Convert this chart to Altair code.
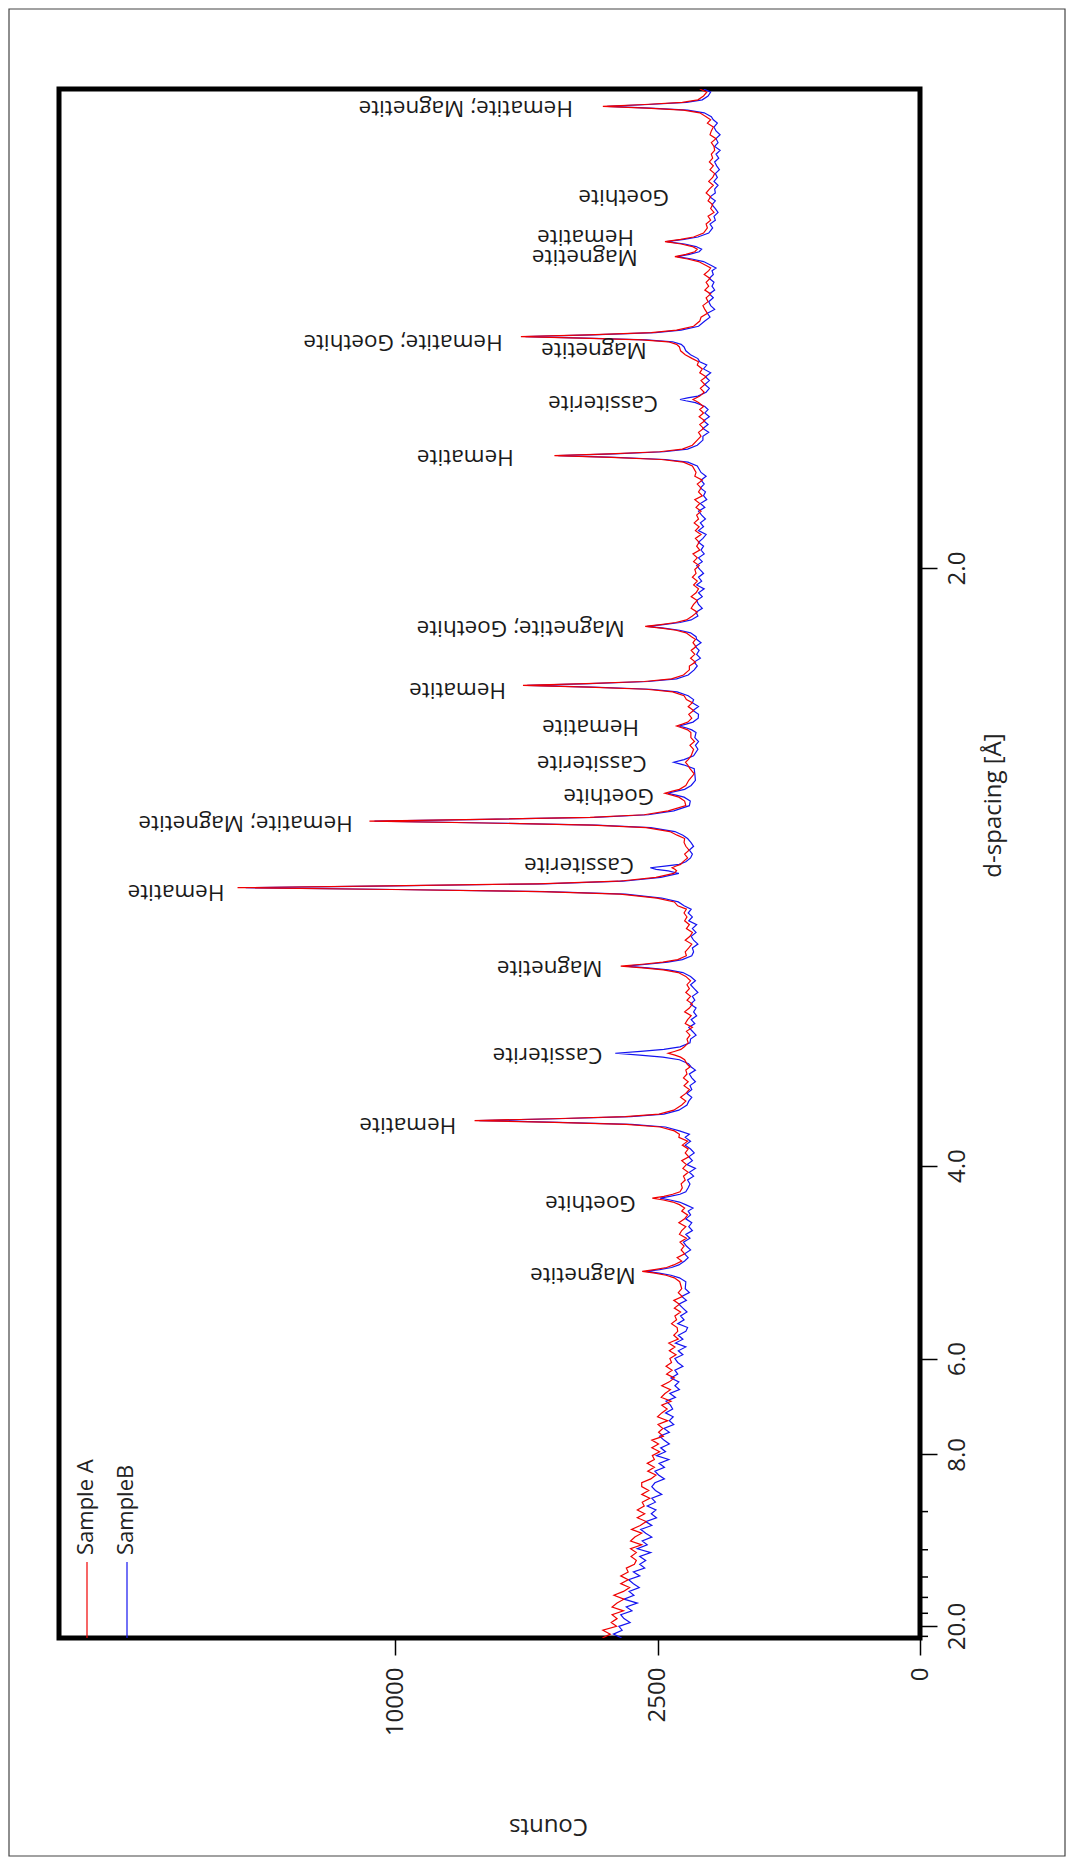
import math
import altair as alt
import pandas as pd

# ---------------- data ----------------
WAVELENGTH = 1.5406  # Cu K-alpha: places the d-spacing axis (linear in 2-theta)

# diffraction angle 2-theta (degrees) of every sampled point
two_theta = [
    3.95, 4.1, 4.25, 4.4, 4.55, 4.7, 4.85, 5.0, 5.15, 5.3,
    5.45, 5.6, 5.75, 5.9, 6.05, 6.2, 6.35, 6.5, 6.65, 6.8,
    6.95, 7.1, 7.25, 7.4, 7.55, 7.7, 7.85, 8.0, 8.15, 8.3,
    8.45, 8.6, 8.75, 8.9, 9.05, 9.2, 9.35, 9.5, 9.65, 9.8,
    9.95, 10.1, 10.25, 10.4, 10.55, 10.7, 10.85, 11.0, 11.15, 11.3,
    11.45, 11.6, 11.75, 11.9, 12.05, 12.2, 12.35, 12.5, 12.65, 12.8,
    12.95, 13.1, 13.25, 13.4, 13.55, 13.7, 13.85, 14.0, 14.15, 14.3,
    14.45, 14.6, 14.75, 14.9, 15.05, 15.2, 15.35, 15.5, 15.65, 15.8,
    15.95, 16.1, 16.25, 16.4, 16.55, 16.7, 16.85, 17.0, 17.15, 17.3,
    17.45,
    17.72, 17.87, 17.97, 18.05, 18.12, 18.19, 18.27, 18.37, 18.52,
    18.65, 18.8, 18.95, 19.1, 19.25, 19.4, 19.55, 19.7, 19.85, 20.0, 20.15, 20.3, 20.45, 20.57,
    20.7, 20.8, 20.88, 20.95, 21.02, 21.1, 21.2, 21.35,
    21.5, 21.65, 21.8, 21.95, 22.1, 22.25, 22.4, 22.55, 22.7, 22.85, 23.0, 23.15, 23.3, 23.42,
    23.55, 23.7, 23.8, 23.88, 23.95, 24.02, 24.1, 24.2, 24.35, 24.55,
    24.7, 24.85, 25.0, 25.15, 25.3, 25.45, 25.6, 25.75, 25.9, 26.02,
    26.15, 26.3, 26.4, 26.48, 26.55, 26.62, 26.7, 26.8, 26.95,
    27.1, 27.25, 27.4, 27.55, 27.7, 27.85, 28.0, 28.15, 28.3, 28.45, 28.6, 28.75, 28.9, 29.05, 29.2, 29.35,
    29.52, 29.67, 29.77, 29.85, 29.92, 29.99, 30.07, 30.17, 30.32,
    30.47, 30.62, 30.77, 30.92, 31.07, 31.22, 31.37, 31.52, 31.67, 31.82, 31.97, 32.12, 32.25, 32.4,
    32.55, 32.7, 32.8, 32.88, 32.95, 33.02, 33.1, 33.2, 33.35,
    33.5, 33.6, 33.66, 33.72, 33.78, 33.85, 33.95, 34.1, 34.25, 34.4, 34.55, 34.7, 34.85, 34.98,
    35.12, 35.27, 35.37, 35.45, 35.52, 35.59, 35.67, 35.77, 35.92,
    36.12, 36.3, 36.45, 36.53, 36.6, 36.67, 36.75, 36.9, 37.1,
    37.35, 37.55, 37.7, 37.8, 37.9, 38.05, 38.3,
    38.45, 38.6, 38.75,
    38.95, 39.05, 39.13, 39.2, 39.27, 39.35, 39.5,
    39.65, 39.8, 39.95, 40.1, 40.22,
    40.37, 40.52, 40.62, 40.7, 40.77, 40.84, 40.92, 41.02, 41.17, 41.37,
    41.52, 41.67, 41.82, 41.97, 42.12, 42.27, 42.42, 42.55,
    42.65, 42.8, 42.9, 42.98, 43.05, 43.12, 43.2, 43.3, 43.45,
    43.6, 43.75, 43.9, 44.05, 44.2, 44.35, 44.5, 44.65, 44.8, 44.95,
    45.1, 45.25, 45.4, 45.55, 45.7, 45.85, 46.0, 46.15, 46.3, 46.45,
    46.6, 46.75, 46.9, 47.05, 47.2, 47.35, 47.5, 47.65, 47.8, 47.95,
    48.1, 48.25, 48.4, 48.55, 48.7, 48.85, 49.0,
    49.25, 49.4, 49.5, 49.58, 49.65, 49.72, 49.8, 49.9, 50.05, 50.25,
    50.4, 50.55, 50.7, 50.85, 51.0, 51.15, 51.3, 51.43,
    51.55, 51.7, 51.77, 51.82, 51.88, 51.95, 52.1,
    52.25, 52.4, 52.55, 52.7, 52.85, 53.0, 53.15, 53.28,
    53.4, 53.55, 53.7, 53.85, 53.95, 54.05, 54.12, 54.18, 54.25, 54.32, 54.4, 54.5, 54.65, 54.85,
    55.0, 55.15, 55.3, 55.45, 55.6, 55.75, 55.9, 56.05, 56.2, 56.35, 56.5, 56.65, 56.8, 56.9,
    57.0, 57.15, 57.25, 57.34, 57.43, 57.53, 57.63, 57.73, 57.83, 57.92, 58.01, 58.1, 58.25, 58.45,
    58.6, 58.75, 58.9, 59.05, 59.2, 59.35, 59.5, 59.65, 59.8, 59.95,
    60.1, 60.25, 60.4, 60.55, 60.7, 60.85, 61.0, 61.15, 61.3, 61.45,
    61.6, 61.75, 61.9, 62.05, 62.2, 62.35, 62.5, 62.63,
    62.75, 62.9, 63.0, 63.08, 63.15, 63.22, 63.3, 63.4, 63.55, 63.7, 63.82,
]

# counts, Sample A (red)
sample_a = [
    3660, 3480, 3650, 3340, 3460, 3330, 3440, 3190, 3440, 3330,
    3180, 3400, 3190, 3060, 3250, 3090, 3250, 3090, 3130, 2960,
    2920, 3030, 2920, 3040, 2810, 3040, 2950, 2810, 3020, 2840,
    2720, 2900, 2750, 2900, 2760, 2800, 2650, 2810, 2670, 2810,
    2810, 2630, 2530, 2690, 2560, 2700, 2560, 2600, 2460, 2610,
    2480, 2610, 2390, 2480, 2400, 2490, 2310, 2500, 2420, 2320,
    2420, 2250, 2430, 2360, 2260, 2420, 2280, 2190, 2330, 2230,
    2340, 2240, 2270, 2160, 2280, 2180, 2290, 2120, 2200, 2130,
    2140, 2240, 2150, 2180, 2080, 2190, 2100, 2200, 2050, 2120,
    2060,
    2095, 2190, 2340, 2550, 2800, 2560, 2330, 2200, 2060,
    2140, 2010, 2070, 2020, 2090, 1980, 2100, 2060, 1990, 2110, 2010, 1960, 2060, 2010,
    2100, 2215, 2390, 2600, 2380, 2220, 2090, 2050,
    2070, 2000, 2030, 1950, 2040, 1980, 2060, 1940, 2000, 1950, 2050, 1960, 2110, 2100,
    2190, 2450, 3130, 4850, 7200, 4900, 3150, 2470, 2200, 2060,
    1990, 2080, 1990, 1930, 2020, 1950, 2030, 1970, 1990, 1920,
    1975, 2010, 2080, 2180, 2300, 2190, 2075, 2015, 1950,
    1970, 1920, 1980, 1880, 2000, 1960, 1900, 2010, 1930, 1880, 1970, 1910, 1990, 1930, 1970, 1910,
    1990, 2120, 2390, 2790, 3250, 2800, 2400, 2130, 1980,
    2000, 1940, 1890, 2000, 1920, 1880, 1980, 1930, 2010, 1970, 2020, 1980, 2130, 2190,
    2510, 3260, 5210, 10150, 16900, 10300, 5300, 3300, 2530,
    2200, 2150, 2180, 2230, 2170, 2080, 2040, 1960, 2010, 1935, 1990, 2020, 2010, 2140,
    2270, 2720, 3900, 6900, 11000, 7000, 3950, 2760, 2300,
    1990, 2010, 2110, 2235, 2360, 2240, 2100, 1990, 1940,
    1850, 1920, 1960, 1995, 1950, 1900, 1860,
    1920, 1845, 1905,
    1905, 1960, 2060, 2150, 2050, 1955, 1890,
    1940, 1860, 1950, 1880, 1980,
    2020, 2220, 2720, 3990, 5720, 4050, 2760, 2240, 2030, 1930,
    1930, 1830, 1910, 1840, 1900, 1820, 1870, 1830,
    1895, 1985, 2160, 2430, 2740, 2440, 2165, 1980, 1880,
    1800, 1900, 1860, 1800, 1900, 1820, 1780, 1860, 1800, 1880,
    1820, 1840, 1770, 1860, 1800, 1870, 1760, 1810, 1770, 1830,
    1740, 1830, 1770, 1850, 1780, 1810, 1740, 1820, 1760, 1840,
    1720, 1780, 1740, 1800, 1720, 1840, 1820,
    1880, 2030, 2430, 3460, 4850, 3500, 2460, 2050, 1880, 1800,
    1740, 1780, 1700, 1760, 1680, 1770, 1700, 1760,
    1700, 1780, 1830, 1870, 1820, 1760, 1690,
    1750, 1680, 1740, 1660, 1760, 1720, 1800, 1780,
    1880, 2000, 2080, 2100, 2150, 2300, 2800, 3940, 5780, 3990, 2620, 2150, 1860, 1760,
    1740, 1640, 1680, 1710, 1630, 1660, 1590, 1680, 1620, 1660, 1600, 1690, 1620, 1590,
    1660, 1780, 1960, 2180, 1990, 1840, 1800, 1880, 2070, 2360, 2080, 1860, 1700, 1640,
    1660, 1590, 1630, 1540, 1590, 1560, 1630, 1590, 1660, 1610,
    1550, 1620, 1560, 1530, 1600, 1550, 1610, 1560, 1580, 1530,
    1540, 1580, 1510, 1600, 1580, 1550, 1640, 1590,
    1660, 1760, 2030, 2710, 3650, 2750, 2050, 1790, 1700, 1650, 1760,
]

# counts, Sample B (blue)
sample_b = [
    3230, 3410, 3220, 3290, 3050, 3180, 3250, 3010, 3130, 2900,
    3180, 2970, 3070, 2860, 2980, 3080, 2850, 2980, 2750, 2850,
    2730, 2850, 2630, 2900, 2700, 2800, 2610, 2730, 2830, 2610,
    2730, 2520, 2620, 2530, 2700, 2540, 2610, 2420, 2540, 2610,
    2550, 2370, 2480, 2550, 2370, 2470, 2290, 2520, 2350, 2440,
    2280, 2380, 2460, 2280, 2380, 2200, 2280, 2210, 2350, 2220,
    2260, 2340, 2170, 2270, 2100, 2180, 2110, 2250, 2130, 2180,
    2040, 2130, 2180, 2040, 2120, 1990, 2170, 2040, 2120, 1990,
    1960, 2130, 2020, 2080, 1970, 2040, 2110, 1980, 2060, 1930,
    2000,
    1990, 2100, 2250, 2470, 2720, 2460, 2240, 2110, 2010,
    1950, 2010, 1910, 1980, 2030, 1920, 1990, 1880, 1940, 1890, 1990, 1910, 1950, 1870,
    1995, 2100, 2265, 2450, 2270, 2090, 1990, 1950,
    1920, 1960, 1860, 1930, 1830, 1970, 1880, 1940, 1850, 1910, 2000, 1910, 2000, 1930,
    2100, 2350, 3020, 4730, 7050, 4780, 3040, 2380, 2110, 1970,
    1940, 1890, 1970, 1890, 1920, 1830, 1890, 1930, 1830, 1900,
    1945, 2100, 2400, 2850, 3370, 2830, 2380, 2090, 1920,
    1910, 1820, 1880, 1940, 1840, 1900, 1810, 1860, 1820, 1910, 1840, 1880, 1790, 1850, 1910, 1830,
    1910, 2040, 2300, 2690, 3150, 2700, 2310, 2050, 1890,
    1860, 1880, 1790, 1860, 1900, 1820, 1880, 1810, 1940, 1880, 1950, 1900, 2020, 2120,
    2420, 3150, 5060, 9900, 16500, 10050, 5150, 3200, 2440,
    2110, 2300, 2525, 2640, 2360, 2105, 1990, 1910, 1880, 1930, 1860, 1905, 1960, 2040,
    2180, 2630, 3800, 6760, 10800, 6850, 3850, 2680, 2200,
    1930, 1915, 2020, 2160, 2310, 2170, 2010, 1900, 1830,
    1840, 1850, 2030, 2200, 2020, 1860, 1790,
    1830, 1780, 1840,
    1820, 1890, 1990, 2100, 1985, 1870, 1785,
    1780, 1870, 1780, 1880, 1860,
    1950, 2140, 2630, 3890, 5600, 3950, 2680, 2150, 1950, 1850,
    1800, 1850, 1750, 1810, 1770, 1830, 1740, 1810,
    1820, 1910, 2100, 2380, 2700, 2390, 2090, 1900, 1790,
    1820, 1720, 1780, 1810, 1720, 1780, 1690, 1810, 1730, 1780,
    1700, 1760, 1810, 1720, 1780, 1690, 1740, 1700, 1780, 1710,
    1660, 1780, 1700, 1750, 1670, 1730, 1780, 1680, 1750, 1650,
    1700, 1670, 1750, 1690, 1740, 1660, 1740,
    1800, 1955, 2355, 3370, 4750, 3400, 2380, 1960, 1800, 1710,
    1710, 1620, 1710, 1630, 1700, 1610, 1680, 1630,
    1680, 1830, 1990, 2090, 1960, 1790, 1660,
    1610, 1680, 1610, 1670, 1590, 1700, 1650, 1760,
    1790, 1910, 1990, 2020, 2070, 2220, 2720, 3850, 5650, 3900, 2540, 2070, 1780, 1680,
    1600, 1640, 1530, 1590, 1620, 1550, 1610, 1530, 1570, 1540, 1610, 1550, 1570, 1510,
    1580, 1700, 1890, 2140, 1930, 1770, 1730, 1820, 2010, 2330, 2020, 1790, 1620, 1560,
    1600, 1520, 1540, 1480, 1520, 1570, 1520, 1600, 1520, 1530,
    1480, 1540, 1490, 1520, 1460, 1500, 1530, 1470, 1510, 1450,
    1530, 1480, 1510, 1450, 1510, 1540, 1490, 1550,
    1580, 1690, 1960, 2640, 3550, 2680, 1980, 1720, 1630, 1590, 1700,
]

# peak annotations: text, 2-theta of the label, counts at the label's right end
peak_labels = [
    "Magnetite", "Goethite", "Hematite", "Cassiterite", "Magnetite",
    "Hematite", "Cassiterite", "Hematite; Magnetite", "Goethite", "Cassiterite",
    "Hematite", "Hematite", "Magnetite; Goethite", "Hematite", "Cassiterite",
    "Magnetite", "Hematite; Goethite", "Magnetite", "Hematite", "Goethite",
    "Hematite; Magnetite",
]
peak_label_2theta = [
    17.99, 20.77, 23.78, 26.49, 29.85,
    32.80, 33.84, 35.46, 36.50, 37.77,
    39.16, 40.59, 42.99, 49.60, 51.69,
    53.74, 54.05, 57.33, 58.11, 59.65,
    63.09,
]
peak_label_counts = [
    2932, 2932, 7801, 3658, 3658,
    17556, 2968, 11677, 2567, 2708,
    2865, 6219, 3164, 5989, 2490,
    2708, 6321, 2893, 2968, 2286,
    4371,
]

series_names = ["Sample A", "SampleB"]
series_colors = ["#f00000", "#1414f0"]

d_major = [20.0, 8.0, 6.0, 4.0, 2.0]        # labelled d-spacing ticks (Angstrom)
d_minor = [10.0, 12.0, 14.0, 16.0, 18.0, 22.0]
count_ticks = [0, 2500, 10000]
COUNT_MAX = 26900
TT_MIN, TT_MAX = 3.95, 63.82

if not (len(two_theta) == len(sample_a) == len(sample_b)):
    raise ValueError(f"length mismatch {len(two_theta)} {len(sample_a)} {len(sample_b)}")


def to_two_theta(d):
    return 2 * math.degrees(math.asin(WAVELENGTH / (2 * d)))


# ---------------- chart ----------------
W, H = 861, 1549
FONT = "Open Sans"
TXT = "#222222"

xscale = alt.Scale(type="sqrt", domain=[0, COUNT_MAX], reverse=True, nice=False)
yscale = alt.Scale(domain=[TT_MIN, TT_MAX], nice=False, zero=False)

x_axis = alt.Axis(
    values=count_ticks, format="d", orient="bottom",
    labelAngle=270, labelAlign="right", labelBaseline="middle", labelPadding=12,
    labelFont=FONT, labelFontSize=24, labelColor=TXT, labelFlush=False, labelOverlap=False,
    tickSize=17, tickWidth=1.5, tickColor="black", domain=False, grid=False,
    title="Counts", titleAngle=180, titleX=489, titleY=187, titleAlign="center",
    titleBaseline="middle", titleFont=FONT, titleFontSize=24, titleFontWeight="normal",
    titleColor=TXT,
)
y_axis = alt.Axis(
    values=[to_two_theta(d) for d in d_major], orient="right",
    labelExpr=f"format({WAVELENGTH / 2} / sin(datum.value * PI / 360), '.1f')",
    labelAngle=270, labelAlign="center", labelBaseline="top", labelPadding=8,
    labelFont=FONT, labelFontSize=24, labelColor=TXT, labelFlush=False, labelOverlap=False,
    tickSize=17, tickWidth=1.5, tickColor="black", domain=False, grid=False,
    title="d-spacing [Å]", titleAngle=270, titleX=73, titleY=716, titleAlign="center",
    titleBaseline="middle", titleFont=FONT, titleFontSize=24, titleFontWeight="normal",
    titleColor=TXT,
)


def xenc():
    return alt.X("counts:Q", scale=xscale, axis=x_axis)


def yenc():
    return alt.Y("tt:Q", scale=yscale, axis=y_axis)


df_a = pd.DataFrame({"tt": two_theta, "counts": sample_a})
df_b = pd.DataFrame({"tt": two_theta, "counts": sample_b})

line_b = alt.Chart(df_b).mark_line(color=series_colors[1], strokeWidth=1.2, clip=True).encode(
    x=xenc(), y=yenc(), order=alt.Order("tt:Q"),
)
line_a = alt.Chart(df_a).mark_line(color=series_colors[0], strokeWidth=1.2, clip=True).encode(
    x=xenc(), y=yenc(), order=alt.Order("tt:Q"),
)

df_lab = pd.DataFrame({"label": peak_labels, "tt": peak_label_2theta, "counts": peak_label_counts})
labels = alt.Chart(df_lab).mark_text(
    angle=180, align="left", baseline="middle", font=FONT, fontSize=22.5, color="#1a1a1a"
).encode(x=xenc(), y=yenc(), text="label:N")

df_minor = pd.DataFrame({"tt": [to_two_theta(d) for d in d_minor]})
minor_ticks = alt.Chart(df_minor).mark_rule(color="black", strokeWidth=1.5, clip=False).encode(
    x=alt.value(W), x2=alt.value(W + 8), y=yenc(),
)

one = pd.DataFrame({"k": [0]})
legend_layers = []
for i, (name, col) in enumerate(zip(series_names, series_colors)):
    xpos = 28 + 40 * i
    legend_layers.append(
        alt.Chart(one).mark_rule(color=col, strokeWidth=1.2).encode(
            x=alt.value(xpos), y=alt.value(H - 76), y2=alt.value(H)
        )
    )
    legend_layers.append(
        alt.Chart(one).mark_text(
            text=name, angle=270, align="left", baseline="middle",
            font=FONT, fontSize=22, color=TXT
        ).encode(x=alt.value(xpos - 1), y=alt.value(H - 83))
    )

border = alt.Chart(one).mark_rect(fill="transparent", stroke="#444444", strokeWidth=1.2).encode(
    x=alt.value(-50), x2=alt.value(1006), y=alt.value(-80), y2=alt.value(1767)
)

chart = alt.layer(
    line_b, line_a, labels, minor_ticks, border, *legend_layers
).properties(
    width=W, height=H,
    padding={"left": 51, "top": 81, "right": 146, "bottom": 219},
    autosize=alt.AutoSizeParams(type="none"),
).configure(
    background="white",
    view=alt.ViewConfig(stroke="black", strokeWidth=5),
)

chart.save("out.html", embed_options={"renderer": "svg", "actions": False})
